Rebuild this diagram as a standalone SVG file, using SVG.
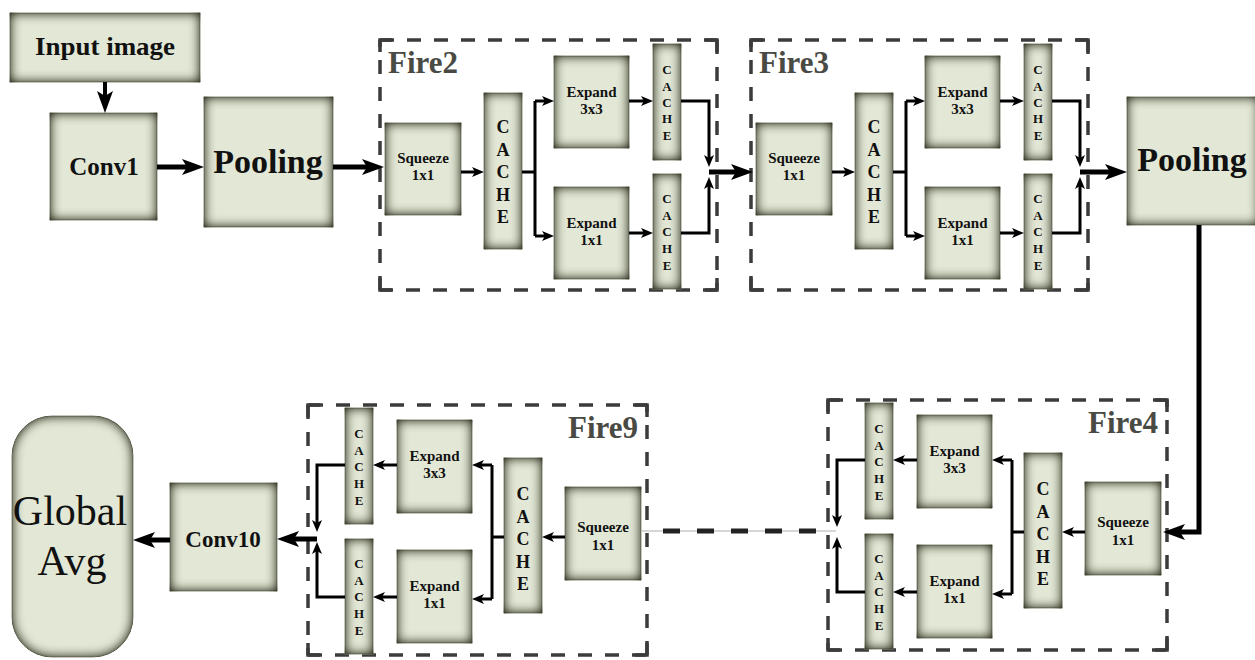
<svg xmlns="http://www.w3.org/2000/svg" width="1255" height="660" viewBox="0 0 1255 660">
<defs>
<filter id="vig" x="-10%" y="-10%" width="120%" height="120%" color-interpolation-filters="sRGB">
<feGaussianBlur in="SourceAlpha" stdDeviation="6" result="b"/>
<feComposite in="SourceAlpha" in2="b" operator="arithmetic" k2="1.4" k3="-1.4" result="edge"/>
<feFlood flood-color="#3a3d2c"/>
<feComposite in2="edge" operator="in" result="sh"/>
<feMerge><feMergeNode in="SourceGraphic"/><feMergeNode in="sh"/></feMerge>
</filter>
<marker id="ah" markerUnits="userSpaceOnUse" markerWidth="12" markerHeight="10" refX="4" refY="5" orient="auto"><path d="M0,0 L12,5 L0,10 L3,5 z" fill="#000"/></marker>
<marker id="ahb" markerUnits="userSpaceOnUse" markerWidth="22" markerHeight="16" refX="6" refY="8" orient="auto"><path d="M0,0 L22,8 L0,16 L5,8 z" fill="#000"/></marker>
</defs>
<style>
.box{fill:#e3e8d6;stroke:#8d907f;stroke-width:1;filter:url(#vig)}
text{font-family:"Liberation Serif","Times New Roman",serif;fill:#111;text-anchor:middle}
.b{font-weight:bold}
.lg{font-size:34px;font-weight:bold}
.md{font-size:25px;font-weight:bold}
.sm{font-size:15px;font-weight:bold}
.cb{font-size:18px;font-weight:bold}
.cs{font-size:13px;font-weight:bold}
.fire{font-size:31px;font-weight:bold;fill:#4a4a44}
.fl{text-anchor:start}
.fr{text-anchor:end}
.ga{font-size:42px;font-weight:normal}
.dash{fill:none;stroke:#3b3b3b;stroke-width:3.5;stroke-dasharray:14 13}
.corner{fill:none;stroke:#3b3b3b;stroke-width:3.5}
.ln{fill:none;stroke:#000;stroke-width:3}
.ar{fill:none;stroke:#000;stroke-width:3;marker-end:url(#ah)}
.tk{fill:none;stroke:#000;stroke-width:5;marker-end:url(#ahb)}
</style>
<rect width="1255" height="660" fill="#fff"/>

<g id="input-image"><rect class="box" x="10" y="13" width="190" height="69"/><text class="md" x="105" y="55" textLength="140" lengthAdjust="spacingAndGlyphs">Input image</text></g>
<g id="conv1"><rect class="box" x="50" y="113" width="107" height="107"/><text class="md" x="104" y="175">Conv1</text></g>
<g id="pooling1"><rect class="box" x="204" y="97" width="129" height="130"/><text class="lg" x="268" y="173">Pooling</text></g>

<g id="fire2">
<path class="dash" d="M380,40 H717 M717,40 V290 M717,290 H380 M380,290 V40"/>
<path class="corner" d="M380,52 V40 H392 M705,40 H717 V52 M717,278 V290 H705 M392,290 H380 V278"/>
<text class="fire fl" x="388" y="73">Fire2</text>
<g id="fire2-squeeze"><rect class="box" x="385" y="123" width="76" height="92"/><text class="sm" x="423" y="163">Squeeze</text><text class="sm" x="423" y="180">1x1</text></g>
<g id="fire2-cache"><rect class="box" x="484" y="93" width="38" height="156"/><text class="cb"><tspan x="503" y="133">C</tspan><tspan x="503" y="156">A</tspan><tspan x="503" y="178">C</tspan><tspan x="503" y="201">H</tspan><tspan x="503" y="223">E</tspan></text></g>
<g id="fire2-expand3"><rect class="box" x="554" y="56" width="75" height="92"/><text class="sm" x="591.5" y="97">Expand</text><text class="sm" x="591.5" y="114">3x3</text></g>
<g id="fire2-expand1"><rect class="box" x="554" y="187" width="75" height="92"/><text class="sm" x="591.5" y="228">Expand</text><text class="sm" x="591.5" y="245">1x1</text></g>
<g id="fire2-cache3"><rect class="box" x="653" y="44" width="28" height="116"/><text class="cs"><tspan x="667" y="73.5">C</tspan><tspan x="667" y="90.5">A</tspan><tspan x="667" y="106.5">C</tspan><tspan x="667" y="122.5">H</tspan><tspan x="667" y="139.5">E</tspan></text></g>
<g id="fire2-cache1"><rect class="box" x="653" y="174" width="28" height="115"/><text class="cs"><tspan x="667" y="202.5">C</tspan><tspan x="667" y="219.5">A</tspan><tspan x="667" y="236">C</tspan><tspan x="667" y="252.5">H</tspan><tspan x="667" y="269.5">E</tspan></text></g>
</g>

<g id="fire3" transform="translate(371,0)">
<path class="dash" d="M380,40 H717 M717,40 V290 M717,290 H380 M380,290 V40"/>
<path class="corner" d="M380,52 V40 H392 M705,40 H717 V52 M717,278 V290 H705 M392,290 H380 V278"/>
<text class="fire fl" x="388" y="73">Fire3</text>
<g id="fire3-squeeze"><rect class="box" x="385" y="123" width="76" height="92"/><text class="sm" x="423" y="163">Squeeze</text><text class="sm" x="423" y="180">1x1</text></g>
<g id="fire3-cache"><rect class="box" x="484" y="93" width="38" height="156"/><text class="cb"><tspan x="503" y="133">C</tspan><tspan x="503" y="156">A</tspan><tspan x="503" y="178">C</tspan><tspan x="503" y="201">H</tspan><tspan x="503" y="223">E</tspan></text></g>
<g id="fire3-expand3"><rect class="box" x="554" y="56" width="75" height="92"/><text class="sm" x="591.5" y="97">Expand</text><text class="sm" x="591.5" y="114">3x3</text></g>
<g id="fire3-expand1"><rect class="box" x="554" y="187" width="75" height="92"/><text class="sm" x="591.5" y="228">Expand</text><text class="sm" x="591.5" y="245">1x1</text></g>
<g id="fire3-cache3"><rect class="box" x="653" y="44" width="28" height="116"/><text class="cs"><tspan x="667" y="73.5">C</tspan><tspan x="667" y="90.5">A</tspan><tspan x="667" y="106.5">C</tspan><tspan x="667" y="122.5">H</tspan><tspan x="667" y="139.5">E</tspan></text></g>
<g id="fire3-cache1"><rect class="box" x="653" y="174" width="28" height="115"/><text class="cs"><tspan x="667" y="202.5">C</tspan><tspan x="667" y="219.5">A</tspan><tspan x="667" y="236">C</tspan><tspan x="667" y="252.5">H</tspan><tspan x="667" y="269.5">E</tspan></text></g>
</g>

<g id="pooling2"><rect class="box" x="1127" y="97" width="132" height="128"/><text class="lg" x="1192" y="171">Pooling</text></g>

<g id="fire4">
<path class="dash" d="M1167,400 H828 M828,400 V650 M828,650 H1167 M1167,650 V400"/>
<path class="corner" d="M828,412 V400 H840 M1155,400 H1167 V412 M1167,638 V650 H1155 M840,650 H828 V638"/>
<text class="fire fr" x="1158" y="433">Fire4</text>
<g id="fire4-squeeze"><rect class="box" x="1085" y="482" width="76" height="93"/><text class="sm" x="1123" y="527">Squeeze</text><text class="sm" x="1123" y="545">1x1</text></g>
<g id="fire4-cache"><rect class="box" x="1024" y="453" width="38" height="155"/><text class="cb"><tspan x="1043" y="495">C</tspan><tspan x="1043" y="517.5">A</tspan><tspan x="1043" y="540">C</tspan><tspan x="1043" y="562.5">H</tspan><tspan x="1043" y="585">E</tspan></text></g>
<g id="fire4-expand3"><rect class="box" x="917" y="415" width="75" height="93"/><text class="sm" x="954.5" y="456">Expand</text><text class="sm" x="954.5" y="473">3x3</text></g>
<g id="fire4-expand1"><rect class="box" x="917" y="545" width="75" height="93"/><text class="sm" x="954.5" y="586">Expand</text><text class="sm" x="954.5" y="603">1x1</text></g>
<g id="fire4-cache3"><rect class="box" x="865" y="403" width="28" height="116"/><text class="cs"><tspan x="879" y="432.5">C</tspan><tspan x="879" y="449.5">A</tspan><tspan x="879" y="465.5">C</tspan><tspan x="879" y="482.5">H</tspan><tspan x="879" y="499.5">E</tspan></text></g>
<g id="fire4-cache1"><rect class="box" x="865" y="534" width="28" height="115"/><text class="cs"><tspan x="879" y="562.5">C</tspan><tspan x="879" y="579.5">A</tspan><tspan x="879" y="596">C</tspan><tspan x="879" y="612.5">H</tspan><tspan x="879" y="629.5">E</tspan></text></g>
</g>

<g id="fire9" transform="translate(-520,5)">
<path class="dash" d="M1167,400 H828 M828,400 V650 M828,650 H1167 M1167,650 V400"/>
<path class="corner" d="M828,412 V400 H840 M1155,400 H1167 V412 M1167,638 V650 H1155 M840,650 H828 V638"/>
<text class="fire fr" x="1158" y="433">Fire9</text>
<g id="fire9-squeeze"><rect class="box" x="1085" y="482" width="76" height="93"/><text class="sm" x="1123" y="527">Squeeze</text><text class="sm" x="1123" y="545">1x1</text></g>
<g id="fire9-cache"><rect class="box" x="1024" y="453" width="38" height="155"/><text class="cb"><tspan x="1043" y="495">C</tspan><tspan x="1043" y="517.5">A</tspan><tspan x="1043" y="540">C</tspan><tspan x="1043" y="562.5">H</tspan><tspan x="1043" y="585">E</tspan></text></g>
<g id="fire9-expand3"><rect class="box" x="917" y="415" width="75" height="93"/><text class="sm" x="954.5" y="456">Expand</text><text class="sm" x="954.5" y="473">3x3</text></g>
<g id="fire9-expand1"><rect class="box" x="917" y="545" width="75" height="93"/><text class="sm" x="954.5" y="586">Expand</text><text class="sm" x="954.5" y="603">1x1</text></g>
<g id="fire9-cache3"><rect class="box" x="865" y="403" width="28" height="116"/><text class="cs"><tspan x="879" y="432.5">C</tspan><tspan x="879" y="449.5">A</tspan><tspan x="879" y="465.5">C</tspan><tspan x="879" y="482.5">H</tspan><tspan x="879" y="499.5">E</tspan></text></g>
<g id="fire9-cache1"><rect class="box" x="865" y="534" width="28" height="115"/><text class="cs"><tspan x="879" y="562.5">C</tspan><tspan x="879" y="579.5">A</tspan><tspan x="879" y="596">C</tspan><tspan x="879" y="612.5">H</tspan><tspan x="879" y="629.5">E</tspan></text></g>
</g>

<g id="conv10"><rect class="box" x="170" y="483" width="107" height="108"/><text class="b" style="font-size:23px" x="223" y="547">Conv10</text></g>
<g id="global-avg"><rect class="box" x="12" y="416" width="121" height="241" rx="40" ry="40"/><text class="ga" x="70" y="525">Global</text><text class="ga" x="72" y="575">Avg</text></g>

<g id="connectors">
<path style="fill:none;stroke:#000;stroke-width:4;marker-end:url(#ahb)" d="M105,82 V97"/>
<path class="tk" d="M157,167 H188"/>
<path class="tk" d="M333,167 H368"/>
<g id="fire2-links">
<path class="ar" d="M461,172 H476"/>
<path class="ln" d="M522,172 H535 M535,101 V236"/>
<path class="ar" d="M535,101 H546"/>
<path class="ar" d="M535,236 H546"/>
<path class="ar" d="M629,101 H645"/>
<path class="ar" d="M629,233 H645"/>
<path class="ar" d="M681,101 H709 V159"/>
<path class="ar" d="M681,233 H709 V185"/>
</g>
<path class="tk" d="M709,172 H737"/>
<g id="fire3-links" transform="translate(371,0)">
<path class="ar" d="M461,172 H476"/>
<path class="ln" d="M522,172 H535 M535,101 V236"/>
<path class="ar" d="M535,101 H546"/>
<path class="ar" d="M535,236 H546"/>
<path class="ar" d="M629,101 H645"/>
<path class="ar" d="M629,233 H645"/>
<path class="ar" d="M681,101 H709 V159"/>
<path class="ar" d="M681,233 H709 V185"/>
</g>
<path class="tk" d="M1080,172 H1111"/>
<path class="tk" d="M1199,225 V532 H1179"/>
<g id="fire4-links">
<path class="ar" d="M1085,532 H1070"/>
<path class="ln" d="M1024,532 H1012 M1012,460 V594"/>
<path class="ar" d="M1012,460 H1000"/>
<path class="ar" d="M1012,594 H1000"/>
<path class="ar" d="M917,460 H901"/>
<path class="ar" d="M917,592 H901"/>
<path class="ar" d="M865,460 H837 V519"/>
<path class="ar" d="M865,592 H837 V545"/>
</g>
<g id="fire9-links" transform="translate(-520,5)">
<path class="ar" d="M1085,532 H1070"/>
<path class="ln" d="M1024,532 H1012 M1012,460 V594"/>
<path class="ar" d="M1012,460 H1000"/>
<path class="ar" d="M1012,594 H1000"/>
<path class="ar" d="M917,460 H901"/>
<path class="ar" d="M917,592 H901"/>
<path class="ar" d="M865,460 H837 V519"/>
<path class="ar" d="M865,592 H837 V545"/>
</g>
<line x1="642" y1="531" x2="836" y2="531" stroke="#c8c8c8" stroke-width="1.5"/>
<line x1="663" y1="531" x2="816" y2="531" stroke="#222222" stroke-width="5" stroke-dasharray="17 17"/>
<path class="tk" d="M317,539 H293"/>
<path class="tk" d="M170,540 H149"/>
</g>
</svg>
